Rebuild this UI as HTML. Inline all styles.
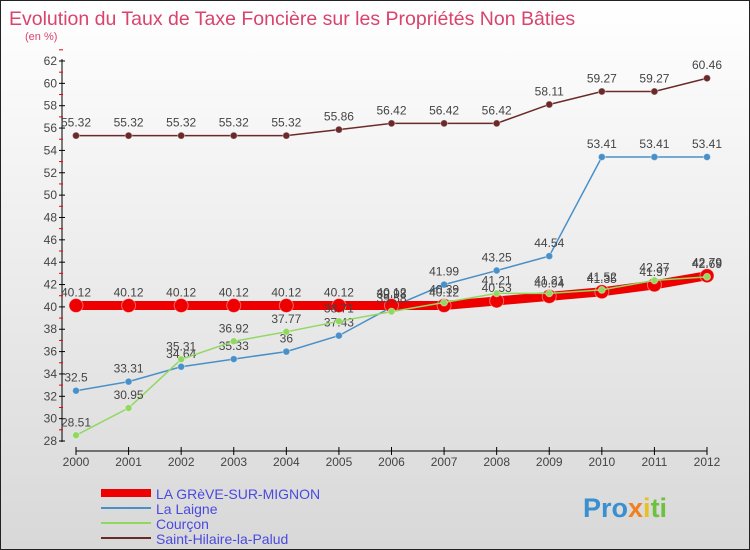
<!DOCTYPE html>
<html><head><meta charset="utf-8"><style>
body{margin:0}
#c{width:748px;height:548px;border:1px solid #222;background:linear-gradient(#fff,#d8d8d8);position:relative;font-family:"Liberation Sans",sans-serif;overflow:hidden}
</style></head><body>
<div id="c">
<svg width="748" height="548" id="s">
<text x="8" y="24" font-size="19.5" fill="#d9436c">Evolution du Taux de Taxe Foncière sur les Propriétés Non Bâties</text>
<text x="24" y="39" font-size="11" fill="#d9436c">(en %)</text>
<g id="ax"></g><g id="ser"></g>
<g id="leg" font-size="14" fill="#4a4adf">
<line x1="100" y1="492" x2="150" y2="492" stroke="#e00" stroke-width="8"/>
<text x="155" y="498">LA GRèVE-SUR-MIGNON</text>
<line x1="100" y1="507" x2="150" y2="507" stroke="#4a90c8" stroke-width="2"/>
<text x="155" y="513">La Laigne</text>
<line x1="100" y1="522" x2="150" y2="522" stroke="#90d860" stroke-width="2"/>
<text x="155" y="528">Courçon</text>
<line x1="100" y1="537" x2="150" y2="537" stroke="#6b2a2a" stroke-width="2"/>
<text x="155" y="543">Saint-Hilaire-la-Palud</text>
</g>
<text x="582" y="516" font-size="27" font-weight="bold" fill="#3a8fd0">Pro<tspan fill="#f08020">x</tspan><tspan fill="#e8c020">i</tspan><tspan fill="#70c040">ti</tspan></text>
</svg></div>
<script>
const years=[2000,2001,2002,2003,2004,2005,2006,2007,2008,2009,2010,2011,2012];
const yTicks=[28,30,32,34,36,38,40,42,44,46,48,50,52,54,56,58,60,62];
const greve=[40.12,40.12,40.12,40.12,40.12,40.12,40.12,40.12,40.53,40.94,41.35,41.97,42.79];
const laigne=[32.5,33.31,34.64,35.33,36,37.43,39.98,41.99,43.25,44.54,53.41,53.41,53.41];
const courcon=[28.51,30.95,35.31,36.92,37.77,38.71,39.58,40.39,41.21,41.21,41.52,42.37,42.69];
const sth=[55.32,55.32,55.32,55.32,55.32,55.86,56.42,56.42,56.42,58.11,59.27,59.27,60.46];
const NS="http://www.w3.org/2000/svg";
const X=i=>75+i*(706-75)/12, Y=v=>60+(62-v)*380/34;
function el(p,t,a){const e=document.createElementNS(NS,t);for(const k in a)e.setAttribute(k,a[k]);p.appendChild(e);return e;}
const ax=document.getElementById('ax'),ser=document.getElementById('ser');
let l=el(ax,'line',{x1:61,y1:58,x2:61,y2:441,stroke:'#000'});


yTicks.forEach(v=>{
 el(ax,'line',{x1:58,x2:64,y1:Y(v),y2:Y(v),stroke:'#000'});
 el(ax,'line',{x1:58,x2:62,y1:Y(v+1),y2:Y(v+1),stroke:'#e00'});
 const t=el(ax,'text',{x:56,y:Y(v)+4,'font-size':12,'text-anchor':'end',fill:'#444'});t.textContent=v;
 
 
});
l=el(ax,'line',{x1:75,y1:450,x2:706,y2:450,stroke:'#000'});


years.forEach((y,i)=>{
 el(ax,'line',{x1:X(i),x2:X(i),y1:446,y2:454,stroke:'#000'});
 const t=el(ax,'text',{x:X(i),y:465,'font-size':12,'text-anchor':'middle',fill:'#444'});t.textContent=y;
 
 
});
function draw(d,c,w,r,name){
 const g=el(ser,'g',{});
 
 
 el(g,'polyline',{points:d.map((v,i)=>X(i)+','+Y(v)).join(' '),fill:'none',stroke:c,'stroke-width':w});
 d.forEach((v,i)=>{
  const p=el(g,'circle',{cx:X(i),cy:Y(v),r:r,fill:c,stroke:'#fff','stroke-opacity':0.4});
  
  
  const t=el(g,'text',{x:X(i),y:Y(v)-9,'font-size':12,'text-anchor':'middle',fill:'#444'});t.textContent=v;
  
  
 });
}
draw(sth,'#6b2a2a',1.5,3.5,'series-sthilaire');
draw(laigne,'#4a90c8',1.5,3.5,'series-laigne');
draw(greve,'#e00',9,7,'series-greve');
draw(courcon,'#90d860',1.5,3.5,'series-courcon');
</script>
</body></html>
